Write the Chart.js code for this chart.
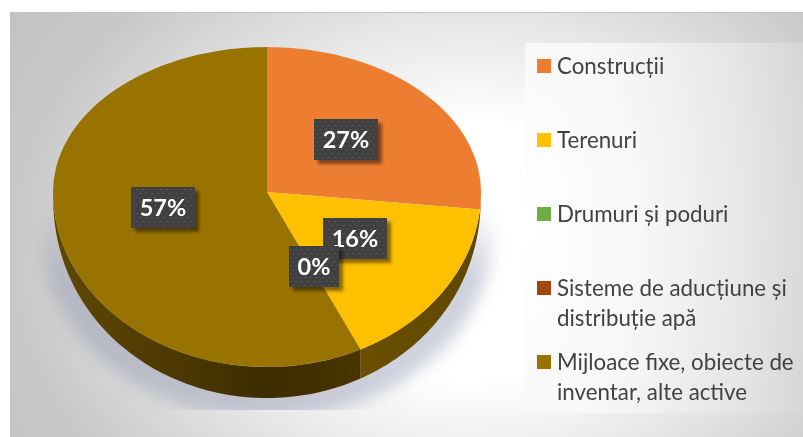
<!DOCTYPE html>
<html><head><meta charset="utf-8">
<script src="https://cdn.jsdelivr.net/npm/chart.js@4"></script>
<style>
html,body{margin:0;padding:0;background:#fff;overflow:hidden}
#wrap{position:relative;width:803px;height:437px;overflow:hidden}
#bg{position:absolute;left:10px;top:12px;width:793px;height:425px;border-top:1px solid #c4c4c4;box-sizing:border-box;
 background:radial-gradient(ellipse 560px 430px at 460px 238px,#fff 0%,#fff 30%,#c8c8c8 82%,#c2c2c2 100%)}
#lb{position:absolute;left:525px;top:43px;width:278px;height:370px;
 background:radial-gradient(ellipse 320px 620px at 0% 50%,#fff 0%,#f8f8f8 35%,#e6e6e6 70%,#d0d0d0 100%)}
canvas{position:absolute;left:0;top:0}
#legend{position:absolute;left:537px;top:0;width:262px;font:22.3px/30px Lato,sans-serif;color:#424242}
#legend div{position:absolute;left:20px;width:246px}
#legend i{position:absolute;left:-20px;top:8px;width:14px;height:14px}
</style></head><body>
<div id="wrap"><div id="bg"></div><div id="lb"></div><canvas id="c" width="803" height="437"></canvas><div id="legend"></div></div>
<script>
const categories = ["Construcții","Terenuri","Drumuri și poduri","Sisteme de aducțiune și distribuție apă","Mijloace fixe, obiecte de inventar, alte active"];
const values = [26.6,16.2,0,0,57.2];
const sliceColors = ["#ED7D31","#FFC000","#70AD47","#9E480E","#997300"];
const sideDark = ["#B05A20","#6E5200","#70AD47","#9E480E","#4A3700"];

const APEX_Y = 192, UP = 145/214, DOWN = 175/214, DEPTH = 31, LABEL_LIFT = 4;
const mapY = (y, cy) => y < cy ? APEX_Y + (y-cy)*UP : APEX_Y + (y-cy)*DOWN;

function dotPattern(ctx){
  const t=document.createElement('canvas');t.width=6;t.height=8;
  const g=t.getContext('2d');g.fillStyle='#404040';g.fillRect(0,0,6,8);
  g.fillStyle='#565656';g.fillRect(1,1,2,1);g.fillRect(4,5,2,1);
  return ctx.createPattern(t,'repeat');
}

const pie3d = {
  id:'pie3d',
  beforeDatasetsDraw(chart){
    const ctx=chart.ctx, arcs=chart.getDatasetMeta(0).data;
    if(!arcs.length) return false;
    const cx=arcs[0].x, cy=arcs[0].y, R=arcs[0].outerRadius;
    // soft drop shadow under the disc
    ctx.save();
    ctx.beginPath();ctx.rect(0,190,803,220);ctx.clip();
    ctx.filter='blur(8px)';
    const sg=ctx.createLinearGradient(0,205,0,275);
    sg.addColorStop(0,'rgba(140,145,175,0)');
    sg.addColorStop(1,'rgba(140,145,175,0.42)');
    ctx.fillStyle=sg;
    ctx.beginPath();ctx.ellipse(cx,APEX_Y+42,R+11,184,0,0,Math.PI*2);ctx.fill();
    ctx.restore();
    // side wall
    arcs.forEach((a,i)=>{
      const s=Math.max(a.startAngle,0), e=Math.min(a.endAngle,Math.PI);
      if(e<=s) return;
      const pts=[];
      for(let k=0;k<=80;k++){const t=s+(e-s)*k/80;pts.push([cx+R*Math.cos(t),APEX_Y+R*DOWN*Math.sin(t),DEPTH*Math.pow(Math.sin(t),0.6)]);}
      const g=ctx.createLinearGradient(cx-R,0,cx+R,0);
      if(i===1){g.addColorStop(0.5,'#755600');g.addColorStop(1,'#5F4700');}
      else if(i===4){g.addColorStop(0,'#604800');g.addColorStop(0.3,'#4C3800');g.addColorStop(0.5,'#3C2C00');g.addColorStop(0.72,'#4A3500');}
      else g.addColorStop(0,sideDark[i]);
      ctx.fillStyle=g;
      ctx.beginPath();
      pts.forEach((p,k)=>k?ctx.lineTo(p[0],p[1]):ctx.moveTo(p[0],p[1]));
      for(let k=pts.length-1;k>=0;k--)ctx.lineTo(pts[k][0],pts[k][1]+pts[k][2]);
      ctx.closePath();ctx.fill();
    });
    // top face: library arcs, upper and lower half with their own vertical scale
    [[0,APEX_Y+0.5,UP],[APEX_Y,437-APEX_Y,DOWN]].forEach(([top,h,sc])=>{
      ctx.save();
      ctx.beginPath();ctx.rect(0,top,803,h);ctx.clip();
      ctx.translate(0,APEX_Y);ctx.scale(1,sc);ctx.translate(0,-cy);
      arcs.forEach(a=>a.draw(ctx));
      ctx.restore();
    });
    return false;
  },
  afterDraw(chart){
    const ctx=chart.ctx, arcs=chart.getDatasetMeta(0).data;
    const order=[0,1,2,4];
    const pat=dotPattern(ctx);
    order.forEach(i=>{
      const c=arcs[i].getCenterPoint();
      const txt=Math.round(values[i])+'%';
      ctx.save();
      ctx.font='bold 23.5px Lato, sans-serif';
      const w=txt.length>2?64:50, h=41;
      const x=Math.round(c.x-w/2), y=Math.round(mapY(c.y,arcs[i].y)-h/2-LABEL_LIFT);
      ctx.shadowColor='rgba(0,0,0,0.45)';ctx.shadowBlur=3;ctx.shadowOffsetX=4;ctx.shadowOffsetY=4;
      ctx.fillStyle='#404040';ctx.fillRect(x,y,w,h);
      ctx.shadowColor='transparent';
      ctx.fillStyle=pat;ctx.fillRect(x,y,w,h);
      ctx.fillStyle='#fff';ctx.textAlign='center';ctx.textBaseline='middle';
      ctx.fillText(txt,x+w/2,y+h/2+1);
      ctx.restore();
    });
  }
};

new Chart(document.getElementById('c'),{
  type:'pie',
  data:{labels:categories,datasets:[{data:values,backgroundColor:sliceColors,borderWidth:0}]},
  options:{
    responsive:false,animation:false,
    layout:{padding:{left:53,right:322,top:4,bottom:5}},
    plugins:{legend:{display:false},tooltip:{enabled:false}}
  },
  plugins:[pie3d]
});

const lg=document.getElementById('legend');
categories.forEach((name,i)=>{
  const d=document.createElement('div');
  d.style.top=(51+i*74)+'px';
  d.textContent=name;
  const m=document.createElement('i');m.style.background=sliceColors[i];
  d.appendChild(m);lg.appendChild(d);
});
</script>
</body></html>
